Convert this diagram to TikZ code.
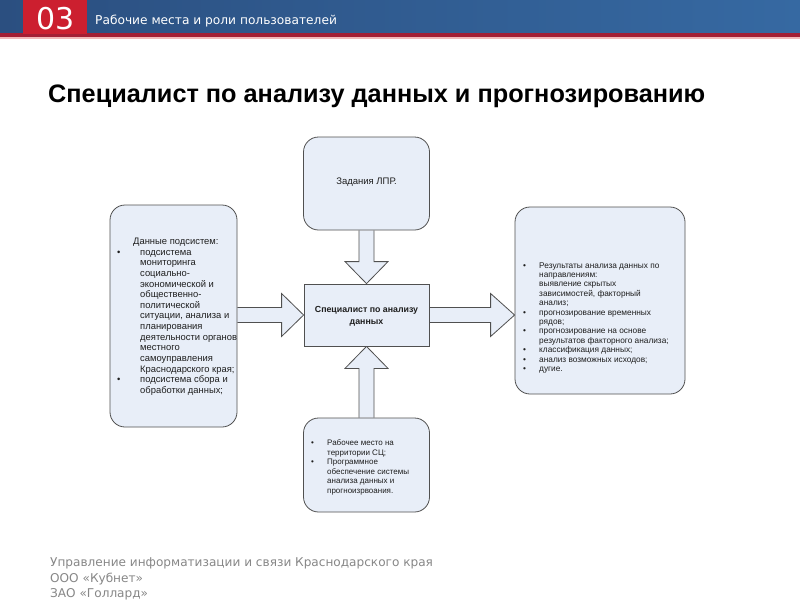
\documentclass[tikz,border=0pt]{standalone}
\usepackage{fontspec}
\setmainfont{Liberation Sans}
\newfontfamily\hdrfont{DejaVu Sans}
\usetikzlibrary{calc}
\definecolor{boxfill}{HTML}{E8EEF8}
\definecolor{boxline}{HTML}{505050}
\definecolor{hdrdark}{HTML}{2B4F80}
\definecolor{hdrlight}{HTML}{3669A2}
\definecolor{numred}{HTML}{CC1F2F}
\definecolor{stripe}{HTML}{A31F34}
\definecolor{pinkline}{HTML}{F2B8B8}
\definecolor{foot}{HTML}{878787}
\definecolor{txt}{HTML}{1E1E1E}
\pgfdeclarelayer{bg}
\pgfdeclarelayer{arr}
\pgfsetlayers{bg,arr,main}
\newcommand\bl[2]{\hbox{\makebox[#1][l]{•}#2}}
\newcommand\nb[2]{\hbox{\hspace*{#1}#2}}
\newcommand\lines[3]{\fontsize{#1}{#2}\selectfont\lineskiplimit=-100pt\lineskip=0pt\vtop{#3}}
\begin{document}
\begin{tikzpicture}[x=1pt,y=-1pt,
  box/.style={draw=boxline,fill=boxfill,line width=0.8pt,inner sep=0pt},
  rbox/.style={box,rounded corners=15pt},
  blk/.style={draw=boxline,fill=boxfill,line width=0.8pt,line join=miter},
  lst/.style={inner sep=0pt,anchor=base west,text=txt}]
\useasboundingbox (0,0) rectangle (800,600);
\begin{pgfonlayer}{bg}
\fill[white] (0,0) rectangle (800,600);
\shade[left color=hdrdark,right color=hdrlight] (0,0) rectangle (800,33.5);
\fill[stripe] (0,33) rectangle (800,37);
\fill[pinkline] (0,37) rectangle (800,38.5);
\fill[numred] (23,0) rectangle (86.5,34);
\end{pgfonlayer}
\node[inner sep=0pt,anchor=base,text=white,font=\hdrfont\fontsize{30}{34}\selectfont] (num) at (55.5,29.5) {03};
\node[inner sep=0pt,anchor=base west,text=white,font=\hdrfont\fontsize{12.2}{14}\selectfont] (hdr) at (95,24) {Рабочие места и роли пользователей};
\node[inner sep=0pt,anchor=base west,text=black,font=\bfseries\fontsize{24}{28}\selectfont] (title) at (48,102) {\resizebox{657pt}{!}{Специалист по анализу данных и прогнозированию}};
% boxes
\node[rbox,minimum width=126pt,minimum height=93pt] (top) at (366.5,183.5) {};
\node[box,minimum width=125pt,minimum height=62pt] (center) at (366.5,315) {};
\node[rbox,minimum width=126pt,minimum height=94pt] (bottom) at (366.5,465) {};
\node[rbox,minimum width=127pt,minimum height=222pt] (left) at (173.5,316) {};
\node[rbox,minimum width=170pt,minimum height=187pt] (right) at (600,300.5) {};
% arrows
\begin{pgfonlayer}{arr}
\draw[blk] ($(top.south)+(-7.5,0)$) -- ($(center.north)+(-7.5,-22)$) -- ($(center.north)+(-21.5,-22)$) -- (center.north) -- ($(center.north)+(21.5,-22)$) -- ($(center.north)+(7.5,-22)$) -- ($(top.south)+(7.5,0)$);
\draw[blk] ($(bottom.north)+(-7.5,0)$) -- ($(center.south)+(-7.5,22)$) -- ($(center.south)+(-21.5,22)$) -- (center.south) -- ($(center.south)+(21.5,22)$) -- ($(center.south)+(7.5,22)$) -- ($(bottom.north)+(7.5,0)$);
\draw[blk] ($(left.east|-center.west)+(0,-7.5)$) -- ($(center.west)+(-22,-7.5)$) -- ($(center.west)+(-22,-21.5)$) -- (center.west) -- ($(center.west)+(-22,21.5)$) -- ($(center.west)+(-22,7.5)$) -- ($(left.east|-center.west)+(0,7.5)$);
\draw[blk] ($(center.east)+(0,-7.5)$) -- ($(right.west|-center.east)+(-24,-7.5)$) -- ($(right.west|-center.east)+(-24,-21.5)$) -- (right.west|-center.east) -- ($(right.west|-center.east)+(-24,21.5)$) -- ($(right.west|-center.east)+(-24,7.5)$) -- ($(center.east)+(0,7.5)$);
\end{pgfonlayer}
% texts
\node[inner sep=0pt,anchor=base,text=txt,font=\fontsize{9.5}{11}\selectfont] (toptxt) at (366.5,184) {Задания ЛПР.};
\node[lst,anchor=base] (centertxt) at (366.5,312) {\lines{8.8}{12}{\hbox to 0pt{\hss\bfseries Специалист по анализу\hss}\hbox to 0pt{\hss\bfseries данных\hss}}};
\node[lst] (lefttxt) at (117,244.5) {\lines{9.4}{10.64}{%
\nb{16pt}{Данные подсистем:}
\bl{23pt}{подсистема}
\nb{23pt}{мониторинга}
\nb{23pt}{социально-}
\nb{23pt}{экономической и}
\nb{23pt}{общественно-}
\nb{23pt}{политической}
\nb{23pt}{ситуации, анализа и}
\nb{23pt}{планирования}
\nb{23pt}{деятельности органов}
\nb{23pt}{местного}
\nb{23pt}{самоуправления}
\nb{23pt}{Краснодарского края;}
\bl{23pt}{подсистема сбора и}
\nb{23pt}{обработки данных;}}};
\node[lst] (righttxt) at (523,268) {\lines{8.3}{9.4}{%
\bl{16pt}{Результаты анализа данных по}
\nb{16pt}{направлениям:}
\nb{16pt}{выявление скрытых}
\nb{16pt}{зависимостей, факторный}
\nb{16pt}{анализ;}
\bl{16pt}{прогнозирование временных}
\nb{16pt}{рядов;}
\bl{16pt}{прогнозирование на основе}
\nb{16pt}{результатов факторного анализа;}
\bl{16pt}{классификация данных;}
\bl{16pt}{анализ возможных исходов;}
\bl{16pt}{дугие.}}};
\node[lst] (bottomtxt) at (311,445.7) {\lines{8}{9.5}{%
\bl{16pt}{Рабочее место на}
\nb{16pt}{территории СЦ;}
\bl{16pt}{Программное}
\nb{16pt}{обеспечение системы}
\nb{16pt}{анализа данных и}
\nb{16pt}{прогноизрвоания.}}};
% footer
\node[inner sep=0pt,anchor=base west,text=foot,font=\hdrfont\fontsize{12.1}{15.5}\selectfont] (foot1) at (50,566.5) {Управление информатизации и связи Краснодарского края};
\node[inner sep=0pt,anchor=base west,text=foot,font=\hdrfont\fontsize{12.1}{15.5}\selectfont] (foot2) at (50,582) {ООО «Кубнет»};
\node[inner sep=0pt,anchor=base west,text=foot,font=\hdrfont\fontsize{12.1}{15.5}\selectfont] (foot3) at (50,597.5) {ЗАО «Голлард»};
\end{tikzpicture}
\end{document}
